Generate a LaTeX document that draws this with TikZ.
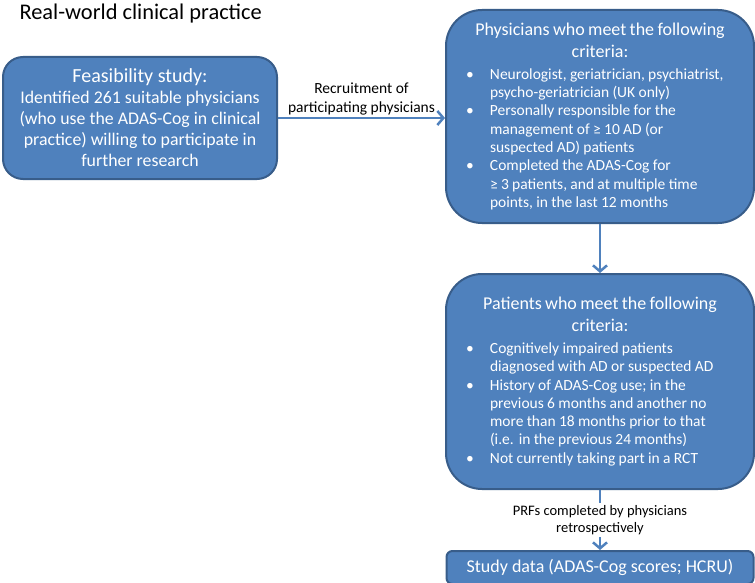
\documentclass[tikz,border=0pt]{standalone}
\usepackage{fontspec}
\setmainfont{Carlito}
\usetikzlibrary{arrows.meta, positioning}
\definecolor{boxBlue}{RGB}{79, 129, 189}
\definecolor{boxEdge}{RGB}{56, 93, 138}
% Heading and bullet lines inside the criteria boxes
\newcommand{\critHead}[1]{{\fontsize{18}{22}\selectfont\centering #1\par}\vspace{3.5pt}}
\newcommand{\critItem}[1]{{\fontsize{15.5}{18.3}\selectfont\raggedright\let\\\newline
    \hangindent=24pt\hangafter=1\noindent\makebox[24pt][l]{\textbullet}#1\par}}
\tikzset{
    % Base Box Style
    flowbox/.style={
        rectangle,
        fill=boxBlue,
        draw=boxEdge,
        line width=2pt,
        text=white,
        inner sep=0pt
    },
    % Specific Box Styles
    feasBox/.style={flowbox, rounded corners=20pt, minimum width=274pt, minimum height=122pt,
        align=center, font=\fontsize{17.8}{21}\selectfont},
    critBox/.style={flowbox, rounded corners=36pt, text width=268pt, inner xsep=20pt},
    dataBox/.style={flowbox, rounded corners=6pt, minimum width=307pt, minimum height=33pt,
        font=\fontsize{18}{21}\selectfont},
    % Arrow & Label Styles
    arrow/.style={-{Straight Barb[length=6pt, width=14pt]}, line width=2.5pt, draw=boxBlue},
    arrowLabel/.style={align=center, text=black, inner sep=2pt}
}
\begin{document}
\begin{tikzpicture}[x=1pt, y=-1pt]
    \useasboundingbox (0,0) rectangle (755,583);

    % --- Title ---
    \node (title) [anchor=base west, font=\fontsize{22.4}{26}\selectfont] at (16,19.5)
        {Real-world clinical practice};

    % --- LEFT (Feasibility study) ---
    \node (feas) [feasBox] at (140,118) {
        {\fontsize{20}{22}\selectfont Feasibility study:} \\
        Identified 261 suitable physicians \\
        (who use the ADAS-Cog in clinical \\
        practice) willing to participate in \\
        further research
    };

    % --- RIGHT COLUMN (Physicians -> Patients -> Data) ---
    \node (phys) [critBox, minimum height=213pt] at (600,116.5) {
        \critHead{Physicians who meet the following\\criteria:}
        \critItem{Neurologist, geriatrician, psychiatrist,\\psycho-geriatrician (UK only)}
        \critItem{Personally responsible for the\\management of ≥ 10 AD (or\\suspected AD) patients}
        \critItem{Completed the ADAS-Cog for\\≥ 3 patients, and at multiple time\\points, in the last 12 months}
    };

    \node (pat) [critBox, minimum height=215pt, below=49pt of phys] {
        \critHead{Patients who meet the following\\criteria:}
        \critItem{Cognitively impaired patients\\diagnosed with AD or suspected AD}
        \critItem{History of ADAS-Cog use; in the\\previous 6 months and another no\\more than 18 months prior to that\\(i.e. in the previous 24 months)}
        \critItem{Not currently taking part in a RCT}
    };

    \node (data) [dataBox, below=60pt of pat] {Study data (ADAS-Cog scores; HCRU)};

    % --- Arrows ---
    \draw [arrow] (feas.east) -- node (recLabel) [arrowLabel, above=0pt,
        font=\fontsize{15.5}{19}\selectfont] {Recruitment of\\participating physicians}
        (feas.east -| phys.west);
    \draw [arrow] (phys) -- (pat);
    \draw [arrow] (pat) -- node (prfLabel) [arrowLabel, fill=white,
        font=\fontsize{14.5}{17.5}\selectfont] {PRFs completed by physicians\\retrospectively} (data);

\end{tikzpicture}
\end{document}
